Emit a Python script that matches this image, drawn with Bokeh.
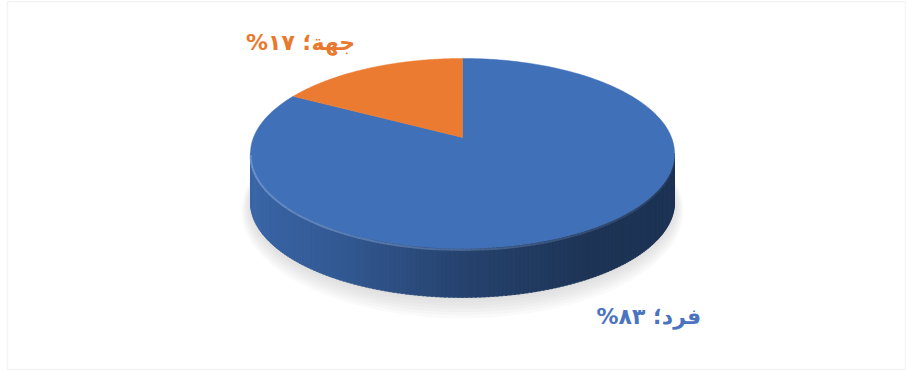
import numpy as np
from bokeh.plotting import figure
from bokeh.models import Range1d, ColumnDataSource, BoxAnnotation
from bokeh.core.properties import value
from bokeh.embed import file_html
from bokeh.resources import INLINE

# ---- data ----
categories = ["فرد", "جهة"]
values = [83, 17]
labels = ["فرد؛ ٨٣%", "جهة؛ ١٧%"]
slice_colors = ["#4070b8", "#eb7b30"]
label_colors = ["#4a74c0", "#e8792e"]

# ---- geometry (screen pixels) ----
W, H = 906, 371
cx, cy = 462.0, 137.0     # apex of the top face
A, B, K = 209.0, 92.3, 0.168   # perspective disc parameters
T = 49.0                  # thickness of the pie

def proj(phi, dy=0.0, sx=1.0, sy=1.0):
    u = np.sin(phi)
    w = np.cos(phi)
    d = 1 + K * w
    return cx + sx * A * u / d, cy - sy * B * w / d + dy

def hex2rgb(h):
    h = h.lstrip("#")
    return np.array([int(h[i:i + 2], 16) for i in (0, 2, 4)], float)

def rgb2hex(c):
    c = np.clip(c, 0, 255).astype(int)
    return "#%02x%02x%02x" % tuple(c)

total = float(sum(values))
fracs = np.array(values) / total
ends = np.cumsum(fracs) * 2 * np.pi
starts = ends - fracs * 2 * np.pi

p = figure(width=W, height=H, x_range=Range1d(0, W), y_range=Range1d(H, 0),
           output_backend="svg", toolbar_location=None, min_border=0)
p.axis.visible = False
p.grid.visible = False
p.outline_line_color = None
p.background_fill_color = "white"
p.styles = {"position": "absolute", "left": "0px", "top": "0px"}

# soft shadow below the pie
phis_all = np.linspace(0, 2 * np.pi, 240)
for s in range(7):
    sx, sy = proj(phis_all, dy=T + 2 + s * 0.7, sx=1.0 + s * 0.007, sy=1.0 + s * 0.022)
    p.patch(sx, sy, fill_color="#9a9a9a", fill_alpha=0.05, line_color=None)

# side of the pie (front half), strips shaded by horizontal position
phi_r = np.arccos(-K)
phi_l = 2 * np.pi - phi_r
edges = np.linspace(phi_r, phi_l, 161)
stops_u = np.array([-1.0, -0.5, 0.0, 0.5, 1.0])
stops_f = np.array([0.93, 0.80, 0.60, 0.47, 0.46])
sxs, sys_, scol = [], [], []
for a0, a1 in zip(edges[:-1], edges[1:]):
    am = 0.5 * (a0 + a1)
    idx = int(np.searchsorted(ends, am % (2 * np.pi)))
    idx = min(idx, len(values) - 1)
    base = hex2rgb(slice_colors[idx])
    f = np.interp(np.sin(am), stops_u, stops_f)
    pad = 0.004
    xa, ya = proj(a0 - pad)
    xb, yb = proj(a1 + pad)
    sxs.append([xa, xb, xb, xa])
    sys_.append([ya, yb, yb + T, ya + T])
    scol.append(rgb2hex(base * f))
p.patches(xs=sxs, ys=sys_, fill_color=scol, line_color=scol, line_width=0.6)

# top face slices
txs, tys = [], []
for a0, a1 in zip(starts, ends):
    ph = np.linspace(a0, a1, 200)
    x, y = proj(ph)
    txs.append([cx] + list(x))
    tys.append([cy] + list(y))
src = ColumnDataSource(dict(xs=txs, ys=tys, color=slice_colors, cat=categories))
p.patches(xs="xs", ys="ys", fill_color="color", line_color="color", line_width=0.5, source=src)

# bevel highlight along the front top edge
hx, hy, ha = [], [], []
hedges = np.linspace(phi_r, phi_l, 81)
for a0, a1 in zip(hedges[:-1], hedges[1:]):
    x, y = proj(np.array([a0, a1]), dy=1.5)
    u = np.sin(0.5 * (a0 + a1))
    hx.append(list(x)); hy.append(list(y))
    ha.append(0.08 + 0.5 * (1 - u) / 2)
p.multi_line(xs=hx, ys=hy, line_color="#8fb0e0", line_alpha=ha, line_width=2)

# data labels: anchored at the slice's outer edge (mid-angle), pushed outward
mids = 0.5 * (starts + ends)
offsets = [(62, 37), (-69, -26)]
lx, ly = [], []
for i, m in enumerate(mids):
    x, y = proj(m)
    if np.cos(m) < 0:          # front slice: anchor below the side
        y = y + T
    dx, dy = offsets[i]
    lx.append(x + dx)
    ly.append(y + dy)
lsrc = ColumnDataSource(dict(x=lx, y=ly, text=[s + "\u200f" for s in labels], color=label_colors))
p.text(x="x", y="y", text="text", text_color="color", source=lsrc,
       text_font=value("DejaVu Sans"), text_font_style="bold", text_font_size="22px",
       text_align="center", text_baseline="middle")

# chart area border
p.add_layout(BoxAnnotation(left=7, right=905, top=1, bottom=369, fill_color=None,
                           line_color="#d9d9d9", line_width=1.5))

open("out.html", "w").write(file_html(p, INLINE))
